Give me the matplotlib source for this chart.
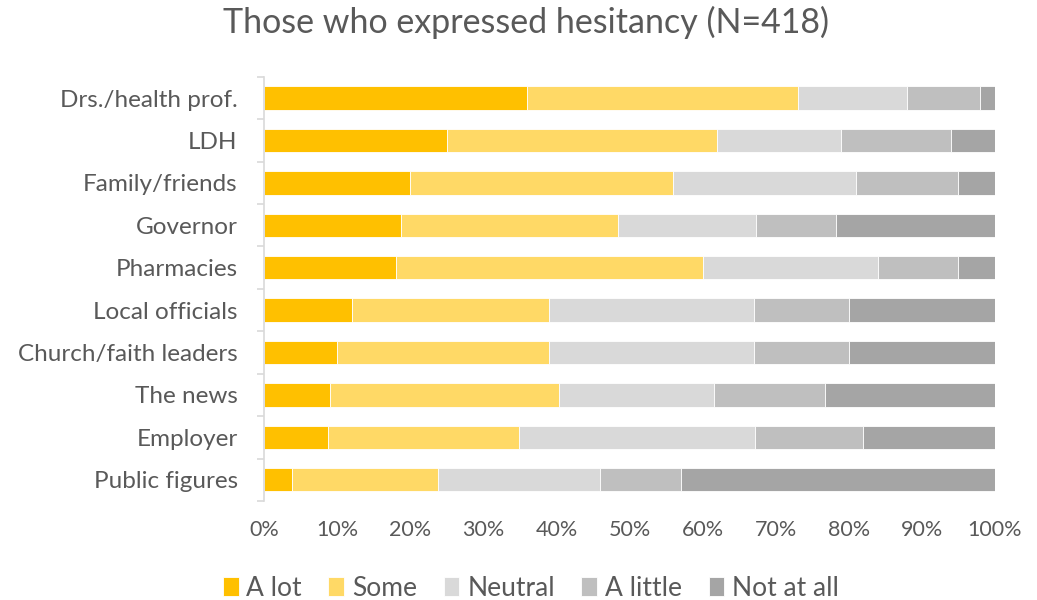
import matplotlib.pyplot as plt
import numpy as np
from matplotlib.ticker import PercentFormatter, FixedLocator

plt.rcParams['font.family'] = ['Lato', 'DejaVu Sans']

# Data (percent of respondents)
categorias = ["Drs./health prof.", "LDH", "Family/friends", "Governor", "Pharmacies",
              "Local officials", "Church/faith leaders", "The news", "Employer", "Public figures"]
a_lot = [36, 25, 20, 18.7, 18, 12, 10, 9, 8.8, 3.8]
some = [37, 37, 36, 29.7, 42, 27, 29, 31.3, 26.1, 20]
neutral = [15, 17, 25, 18.9, 24, 28, 28, 21.3, 32.2, 22.1]
a_little = [10, 15, 14, 11, 11, 13, 13, 15.2, 14.9, 11.1]
not_at_all = [2, 6, 5, 21.7, 5, 20, 20, 23.2, 18, 43]

series = [("A lot", a_lot, "#FFC000"),
          ("Some", some, "#FFD966"),
          ("Neutral", neutral, "#D9D9D9"),
          ("A little", a_little, "#BFBFBF"),
          ("Not at all", not_at_all, "#A5A5A5")]

text_color = "#595959"

fig = plt.figure(figsize=(10.37, 6), dpi=100)
ax = fig.add_axes([0.2546, 0.165, 0.7049, 0.707])

y = np.arange(len(categorias))
izquierda = np.zeros(len(categorias))
for nombre, valores, color in series:
    valores = np.array(valores)
    ax.barh(y, valores, left=izquierda, height=0.55, color=color, label=nombre,
            edgecolor="white", linewidth=0.6)
    izquierda += valores

ax.set_xlim(0, 100)
ax.set_ylim(len(categorias) - 0.5, -0.5)
ax.set_yticks(y)
ax.set_yticklabels(categorias)
ax.yaxis.set_minor_locator(FixedLocator(np.arange(-0.5, len(categorias), 1)))
ax.tick_params(axis="y", which="major", length=0, pad=19, labelsize=17.5, labelcolor=text_color)
ax.tick_params(axis="y", which="minor", length=5, color="#D9D9D9", width=1.2)

ax.set_xticks(np.arange(0, 101, 10))
ax.xaxis.set_major_formatter(PercentFormatter(decimals=0))
ax.tick_params(axis="x", length=0, pad=14, labelsize=15.5, labelcolor=text_color)

for lado in ["top", "right", "bottom"]:
    ax.spines[lado].set_visible(False)
ax.spines["left"].set_color("#D9D9D9")
ax.spines["left"].set_linewidth(1.2)

fig.text(0.507, 0.962, "Those who expressed hesitancy (N=418)", ha="center", va="center",
         fontsize=24.5, color=text_color)

leg = fig.legend(loc="center", bbox_to_anchor=(0.512, 0.02), ncol=5, frameon=False,
                 fontsize=19, handlelength=0.6, handleheight=0.75, handletextpad=0.3,
                 columnspacing=1.0, labelcolor=text_color)

fig.savefig("out.png", dpi=100)
